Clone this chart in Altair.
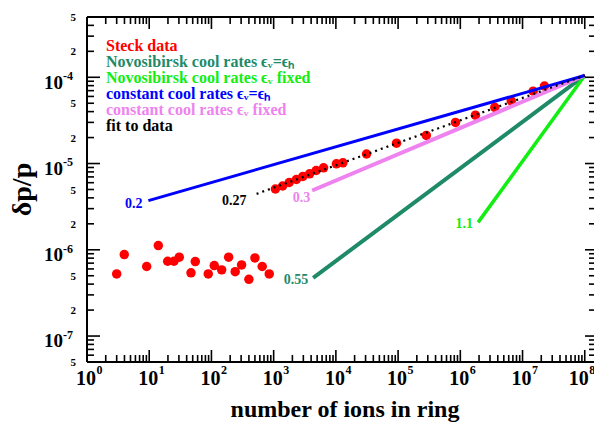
import altair as alt
import pandas as pd

# ---------------- data ----------------
steck_n = [3.0, 3.97, 9.1, 14.0, 19.8, 25.0, 30.4, 46.9, 55.0, 88.9, 111, 146, 189, 241, 305, 400, 500, 655, 849,
           1067, 1393, 1778, 2319, 2950, 3781, 4827, 6343, 1.02e4, 1.295e4, 3.11e4, 9.44e4, 2.84e5, 8.37e5,
           1.75e6, 3.58e6, 6.59e6, 1.48e7, 2.25e7]
steck_dp = [5.25e-7, 8.8e-7, 6.4e-7, 1.12e-6, 7.36e-7, 7.36e-7, 8.2e-7, 5.4e-7, 7.3e-7, 5.25e-7, 6.56e-7,
            5.85e-7, 8.2e-7, 5.58e-7, 6.68e-7, 4.55e-7, 8.05e-7, 6.4e-7, 5.25e-7,
            5.07e-6, 5.49e-6, 6.03e-6, 6.53e-6, 7.08e-6, 7.6e-6, 8.3e-6, 8.93e-6, 9.93e-6, 1.02e-5, 1.29e-5,
            1.72e-5, 2.12e-5, 3.0e-5, 3.64e-5, 4.47e-5, 5.32e-5, 6.91e-5, 7.9e-5]

line_names = ["nov_eq", "nov_fixed", "const_fixed", "const_eq", "fit"]
line_labels = ["0.55", "1.1", "0.3", "0.2", "0.27"]
line_colors = ["#1F8A68", "#11EE11", "#EE82EE", "#0000FF", "#000000"]
line_start_n = [4316, 1.93e6, 4160, 9.7, 532]
line_start_dp = [4.72e-7, 2.08e-6, 4.87e-6, 3.72e-6, 4.45e-6]
line_end_n = [1e8, 1e8, 1e8, 1e8, 1e8]
line_end_dp = [1.05e-4, 1.05e-4, 1.05e-4, 1.05e-4, 1.05e-4]
line_widths = [4, 3.5, 4, 3, 2.2]
label_dx = [-5, -5, -2, -6, -10]
label_dy = [2, 2, 8, 3, 7]

legend_texts = ["Steck data",
                "Novosibirsk cool rates ϵᵥ=ϵₕ",
                "Novosibirsk cool rates ϵᵥ fixed",
                "constant cool rates ϵᵥ=ϵₕ",
                "constant cool rates ϵᵥ fixed",
                "fit to data"]
legend_colors = ["#FF0000", "#1F8A68", "#11EE11", "#0000FF", "#EE82EE", "#000000"]

x_major = [1, 10, 100, 1e3, 1e4, 1e5, 1e6, 1e7, 1e8]
x_exp = ["0", "1", "2", "3", "4", "5", "6", "7", "8"]
x_lab_shift = [0, 0, 0, 0, 0, 0, 0, 0, -5]
y_major = [1e-7, 1e-6, 1e-5, 1e-4]
y_exp = ["-7", "-6", "-5", "-4"]
y_minor_lab = [5e-8, 2e-7, 5e-7, 2e-6, 5e-6, 2e-5, 5e-5, 2e-4, 5e-4]
y_minor_txt = ["5", "2", "5", "2", "5", "2", "5", "2", "5"]

x_title = "number of ions in ring"
y_title = "δp/p"

# ---------------- layout ----------------
W, H = 507, 345
FONT = "Liberation Serif"
xs = alt.Scale(type="log", domain=[1, 1.408e8])
ys = alt.Scale(type="log", domain=[5e-8, 5e-4])

x_minor = [m * 10.0 ** k for k in range(0, 8) for m in range(2, 10)]
y_minor = [m * 10.0 ** k for k in range(-8, -3) for m in range(2, 10) if 4.9e-8 < m * 10.0 ** k < 5.1e-4]

one = alt.Data(values=[{}])
layers = []

# Steck data points
pts = pd.DataFrame({"n": steck_n, "dp": steck_dp})
layers.append(alt.Chart(pts).mark_circle(size=90, color="#FF0000", opacity=1).encode(
    x=alt.X("n:Q", scale=xs, axis=None), y=alt.Y("dp:Q", scale=ys, axis=None)))

# lines
for i, name in enumerate(line_names):
    df = pd.DataFrame({"n": [line_start_n[i], line_end_n[i]], "dp": [line_start_dp[i], line_end_dp[i]]})
    kw = dict(color=line_colors[i], strokeWidth=line_widths[i])
    if name == "fit":
        kw["strokeDash"] = [2, 4]
    layers.append(alt.Chart(df).mark_line(**kw).encode(
        x=alt.X("n:Q", scale=xs, axis=None), y=alt.Y("dp:Q", scale=ys, axis=None)))
    lab = pd.DataFrame({"n": [line_start_n[i]], "dp": [line_start_dp[i]], "t": [line_labels[i]]})
    layers.append(alt.Chart(lab).mark_text(font=FONT, fontWeight="bold", fontSize=14, color=line_colors[i],
                                           align="right", baseline="middle", dx=label_dx[i], dy=label_dy[i]).encode(
        x=alt.X("n:Q", scale=xs, axis=None), y=alt.Y("dp:Q", scale=ys, axis=None), text="t:N"))

# legend texts
for i, t in enumerate(legend_texts):
    layers.append(alt.Chart(one).mark_text(text=t, font=FONT, fontWeight="bold", fontSize=16,
                                           color=legend_colors[i], align="left", baseline="alphabetic").encode(
        x=alt.value(19), y=alt.value(33.7 + 16.1 * i)))

# frame (left, top, bottom)
fw = 2
layers.append(alt.Chart(one).mark_rule(color="black", strokeWidth=fw).encode(
    x=alt.value(0), y=alt.value(0), y2=alt.value(H)))
layers.append(alt.Chart(one).mark_rule(color="black", strokeWidth=fw).encode(
    x=alt.value(0), x2=alt.value(W), y=alt.value(0)))
layers.append(alt.Chart(one).mark_rule(color="black", strokeWidth=fw).encode(
    x=alt.value(0), x2=alt.value(W), y=alt.value(H)))


def xticks(vals, ln):
    df = pd.DataFrame({"n": vals})
    out = []
    for y0, y1 in ((H, H - ln), (0, ln)):
        out.append(alt.Chart(df).mark_rule(color="black", strokeWidth=1.6).encode(
            x=alt.X("n:Q", scale=xs, axis=None), y=alt.value(y0), y2=alt.value(y1)))
    return out


def yticks(vals, ln, rln):
    df = pd.DataFrame({"dp": vals})
    out = []
    for x0, x1 in ((0, ln), (W, W - rln)):
        out.append(alt.Chart(df).mark_rule(color="black", strokeWidth=1.6).encode(
            y=alt.Y("dp:Q", scale=ys, axis=None), x=alt.value(x0), x2=alt.value(x1)))
    return out


layers += xticks(x_major, 12) + xticks(x_minor, 7)
layers += yticks(y_major, 13, 9) + yticks(y_minor, 7, 5)

# x tick labels
for i, v in enumerate(x_major):
    xl = pd.DataFrame({"n": [v], "b": ["10"], "e": [x_exp[i]]})
    layers.append(alt.Chart(xl).mark_text(font=FONT, fontWeight="bold", fontSize=20, align="right",
                                          baseline="alphabetic", dx=9 + x_lab_shift[i]).encode(
        x=alt.X("n:Q", scale=xs, axis=None), y=alt.value(H + 23), text="b:N"))
    layers.append(alt.Chart(xl).mark_text(font=FONT, fontWeight="bold", fontSize=12, align="left",
                                          baseline="alphabetic", dx=9.5 + x_lab_shift[i]).encode(
        x=alt.X("n:Q", scale=xs, axis=None), y=alt.value(H + 11.5), text="e:N"))

# y tick labels
yl = pd.DataFrame({"dp": y_major, "b": ["10"] * len(y_major), "e": y_exp})
layers.append(alt.Chart(yl).mark_text(font=FONT, fontWeight="bold", fontSize=19, align="right",
                                      baseline="alphabetic", dy=11.3).encode(
    y=alt.Y("dp:Q", scale=ys, axis=None), x=alt.value(-24), text="b:N"))
layers.append(alt.Chart(yl).mark_text(font=FONT, fontWeight="bold", fontSize=12, align="left",
                                      baseline="alphabetic", dy=2.8).encode(
    y=alt.Y("dp:Q", scale=ys, axis=None), x=alt.value(-24), text="e:N"))
ym = pd.DataFrame({"dp": y_minor_lab, "t": y_minor_txt})
layers.append(alt.Chart(ym).mark_text(font=FONT, fontWeight="bold", fontSize=11, align="right",
                                      baseline="middle", dy=1).encode(
    y=alt.Y("dp:Q", scale=ys, axis=None), x=alt.value(-11), text="t:N"))

# axis titles
layers.append(alt.Chart(one).mark_text(text=x_title, font=FONT, fontWeight="bold", fontSize=24,
                                       align="center", baseline="alphabetic").encode(
    x=alt.value(258), y=alt.value(H + 55)))
layers.append(alt.Chart(one).mark_text(text=y_title, font=FONT, fontWeight="bold", fontSize=28, angle=270,
                                       align="center", baseline="alphabetic").encode(
    x=alt.value(-56.5), y=alt.value(H / 2)))

chart = alt.layer(*layers).properties(
    width=W, height=H,
    autosize=alt.AutoSizeParams(type="none"),
    padding={"left": 79, "top": 9, "right": 0, "bottom": 62},
).configure_view(stroke=None)

chart.save("out.html", embed_options={"renderer": "svg", "actions": False})
